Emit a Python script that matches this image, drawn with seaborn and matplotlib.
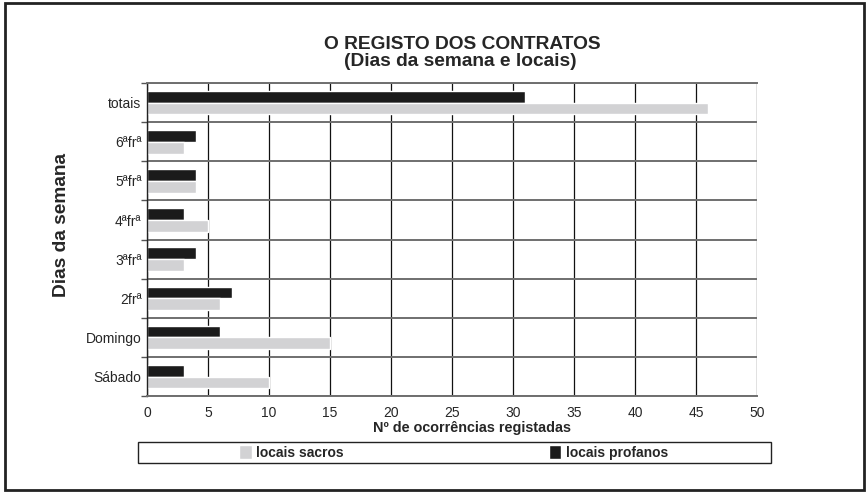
import numpy as np
import pandas as pd
import matplotlib.pyplot as plt
import seaborn as sns
from matplotlib.patches import Patch, Rectangle

# dados (de cima para baixo)
dias = ['totais', '6ªfrª', '5ªfrª', '4ªfrª', '3ªfrª', '2frª', 'Domingo', 'Sábado']
profanos = [31, 4, 4, 3, 4, 7, 6, 3]
sacros = [46, 3, 4, 5, 3, 6, 15, 10]
series = ['locais profanos', 'locais sacros']
cores = {'locais sacros': '#d2d2d4', 'locais profanos': '#1b1b1b'}
xticks = list(range(0, 51, 5))

df = pd.DataFrame({
    'dia': dias * 2,
    'local': [series[0]] * len(dias) + [series[1]] * len(dias),
    'n': profanos + sacros,
})

sns.set_style('white')
plt.rcParams['font.family'] = ['Liberation Sans', 'DejaVu Sans']

fig = plt.figure(figsize=(8.67, 4.92), dpi=100)
ax = fig.add_axes([0.1696, 0.195, 0.7036, 0.636])

sns.barplot(data=df, y='dia', x='n', hue='local', hue_order=series,
            palette=cores, order=dias, orient='h', width=0.6,
            saturation=1, legend=False, ax=ax)

ax.set_xlim(0, 50)
ax.set_xticks(xticks)
ax.set_yticks(np.arange(len(dias) + 1) - 0.5, minor=True)
ax.set_ylim(len(dias) - 0.5, -0.5)
ax.set_axisbelow(True)
ax.xaxis.grid(True, color='#111111', lw=0.9)
ax.yaxis.grid(True, which='minor', color='#6f6f6f', lw=1.4)
ax.yaxis.grid(False, which='major')

ax.tick_params(axis='x', length=4, width=1, color='#555555', labelsize=10, pad=3)
ax.tick_params(axis='y', which='major', length=0, labelsize=10, pad=4)
ax.tick_params(axis='y', which='minor', length=4, width=1, color='#555555', left=True)

for side in ['top', 'bottom']:
    ax.spines[side].set_color('#6f6f6f')
    ax.spines[side].set_linewidth(1.4)
ax.spines['left'].set_color('#222222')
ax.spines['left'].set_linewidth(1)
ax.spines['right'].set_visible(False)

ax.set_xlabel('Nº de ocorrências registadas', fontsize=10.4, fontweight='bold')
ax.xaxis.set_label_coords(0.533, -0.081)
ax.set_ylabel('Dias da semana', fontsize=13.8, fontweight='bold')
ax.yaxis.set_label_coords(-0.126, 0.546)

fig.text(0.533, 1 - 49 / 492, 'O REGISTO DOS CONTRATOS',
         ha='center', va='baseline', fontsize=13.8, fontweight='bold')
fig.text(0.531, 1 - 66 / 492, '(Dias da semana e locais)',
         ha='center', va='baseline', fontsize=13.8, fontweight='bold')

# legenda com caixa
fig.patches.append(Rectangle((138 / 867, 1 - 463 / 492), 633 / 867, 21 / 492,
                             transform=fig.transFigure, fill=False,
                             edgecolor='#222222', lw=1))
handles = [Patch(facecolor=cores[s], label=s) for s in ['locais sacros', 'locais profanos']]
fig.legend(handles=handles, ncol=2, frameon=False, loc='center left',
           bbox_to_anchor=(239 / 867, 1 - 452.5 / 492),
           prop={'weight': 'bold', 'size': 10},
           handlelength=0.9, handleheight=1.1, handletextpad=0.3,
           columnspacing=14.8, borderaxespad=0, borderpad=0)

# moldura exterior
fig.patches.append(Rectangle((5 / 867, 2 / 492), 859 / 867, 487 / 492,
                             transform=fig.transFigure, fill=False,
                             edgecolor='#222222', lw=2))

fig.savefig('out.png', dpi=100)
